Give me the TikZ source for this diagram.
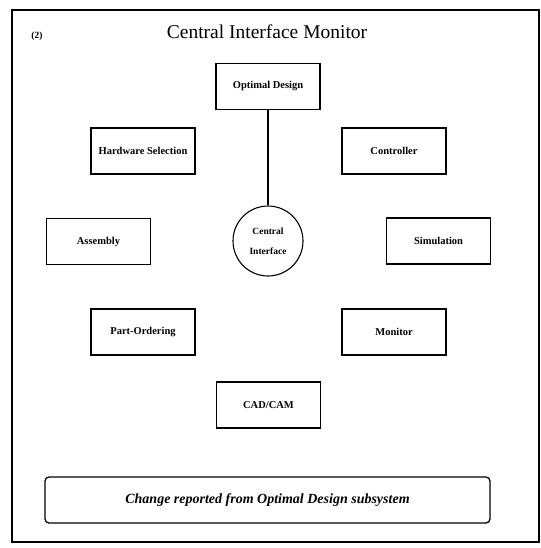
\documentclass[tikz,border=0pt]{standalone}
\usepackage{fontspec}
\setmainfont{Liberation Serif}
\begin{document}
\begin{tikzpicture}[x=1pt,y=-1pt,
  boxnode/.style={draw, line width=1.1pt, minimum width=104pt, minimum height=46pt, font=\fontsize{10.5}{12}\selectfont\bfseries, inner sep=0pt},
  hub/.style={draw, circle, line width=1.1pt, minimum size=70pt, align=center, font=\fontsize{9.5}{20}\selectfont\bfseries, inner sep=0pt},
  link/.style={line width=1.1pt}]
\useasboundingbox (0,0) rectangle (540,548);
\draw[line width=1.3pt] (12,10) rectangle (539,542);
\node[font=\fontsize{19.5}{22}\selectfont] (title) at (267,32) {Central Interface Monitor};
\node[font=\fontsize{9.5}{10}\selectfont\bfseries] (num) at (37,36) {(2)};
\node[boxnode] (opt) at (268,86.5) {Optimal Design};
\node[boxnode] (hw) at (143,151) {Hardware Selection};
\node[boxnode] (ctl) at (394,151) {Controller};
\node[hub] (ci) at (268,241) {Central\\Interface};
\node[boxnode] (asm) at (98.5,241.5) {Assembly};
\node[boxnode] (sim) at (438.5,241) {Simulation};
\node[boxnode] (po) at (143,332) {Part-Ordering};
\node[boxnode] (mon) at (394,332) {Monitor};
\node[boxnode] (cad) at (268.5,405) {CAD/CAM};
\node[draw, line width=1.3pt, rounded corners=4pt, minimum width=445pt, minimum height=46pt, font=\fontsize{14}{16}\selectfont\bfseries\itshape] (msg) at (267.5,500) {Change reported from Optimal Design subsystem};
\draw[link] (opt.south) -- (ci.north);
\end{tikzpicture}
\end{document}
